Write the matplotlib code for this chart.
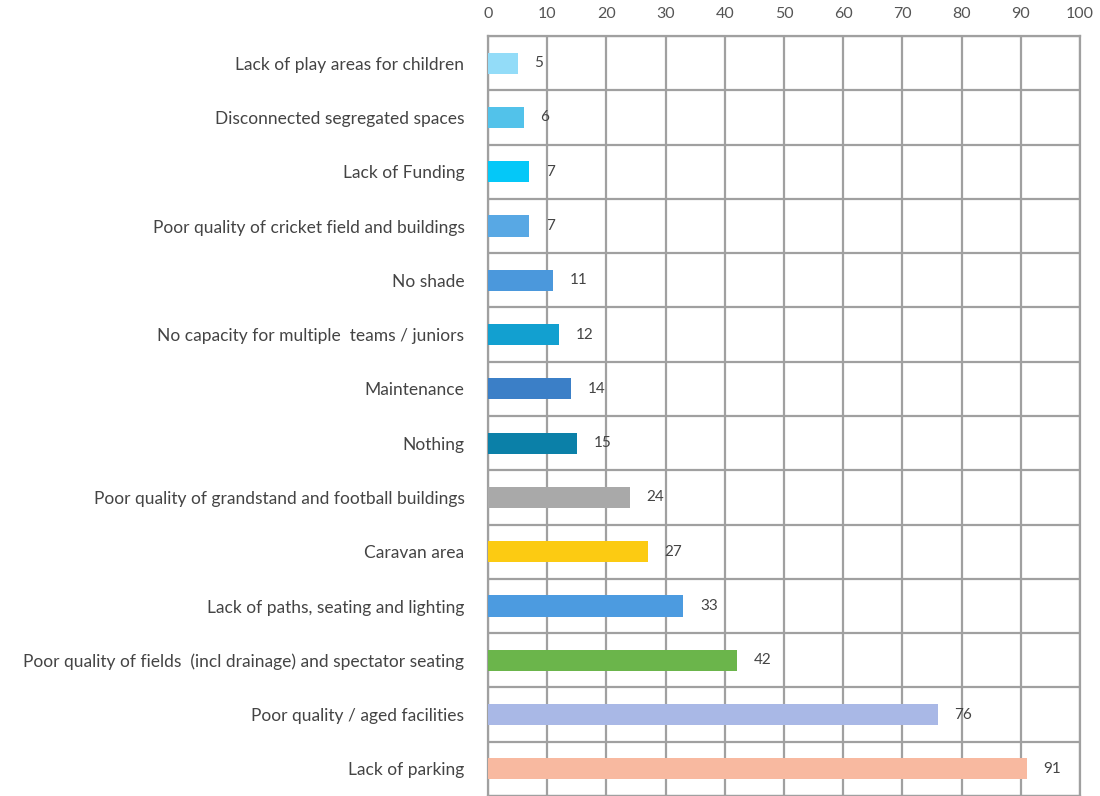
import matplotlib
matplotlib.use("Agg")
import matplotlib.pyplot as plt
import numpy as np

categories = [
    "Lack of play areas for children",
    "Disconnected segregated spaces",
    "Lack of Funding",
    "Poor quality of cricket field and buildings",
    "No shade",
    "No capacity for multiple  teams / juniors",
    "Maintenance",
    "Nothing",
    "Poor quality of grandstand and football buildings",
    "Caravan area",
    "Lack of paths, seating and lighting",
    "Poor quality of fields  (incl drainage) and spectator seating",
    "Poor quality / aged facilities",
    "Lack of parking",
]
values = [5, 6, 7, 7, 11, 12, 14, 15, 24, 27, 33, 42, 76, 91]
colors = ["#93dcf8", "#52c2ea", "#04c8f8", "#58a8e4", "#4b98dc", "#12a0d0",
          "#3b7fc7", "#0b80a8", "#a9a9a9", "#fccb12", "#4c9be0", "#6bb54b",
          "#a9b8e6", "#f8b9a0"]
xticks = [0, 10, 20, 30, 40, 50, 60, 70, 80, 90, 100]

plt.rcParams['font.family'] = ['Lato', 'DejaVu Sans']

fig = plt.figure(figsize=(11, 7.96), dpi=100)
ax = fig.add_axes([488/1100, 0.0, (1080-488)/1100, 1 - 36/796])

y = np.arange(len(categories))
ax.barh(y, values, height=0.39, color=colors, zorder=3)
ax.set_ylim(len(categories) - 0.5, -0.5)
ax.set_xlim(0, 100)

ax.set_yticks(y)
ax.set_yticklabels(categories, fontsize=12.5, color="#444444")
ax.set_yticks(np.arange(-0.5, len(categories)), minor=True)
ax.set_xticks(xticks)
ax.set_xticklabels([str(t) for t in xticks], fontsize=11.5, color="#555555")
ax.xaxis.tick_top()
ax.tick_params(axis="both", which="both", length=0)
ax.tick_params(axis="y", pad=17)
ax.tick_params(axis="x", pad=11)

ax.grid(axis="x", which="major", color="#a0a0a0", linewidth=1.6, zorder=0)
ax.grid(axis="y", which="minor", color="#a0a0a0", linewidth=1.6, zorder=0)
ax.grid(axis="y", which="major", visible=False)
for s in ax.spines.values():
    s.set_color("#a0a0a0")
    s.set_linewidth(1.6)

for yi, v in zip(y, values):
    ax.annotate(str(v), xy=(v, yi), xytext=(12, 0), textcoords="offset points",
                va="center", ha="left", fontsize=11, color="#444444", zorder=4)

fig.savefig("out.png", dpi=100)
